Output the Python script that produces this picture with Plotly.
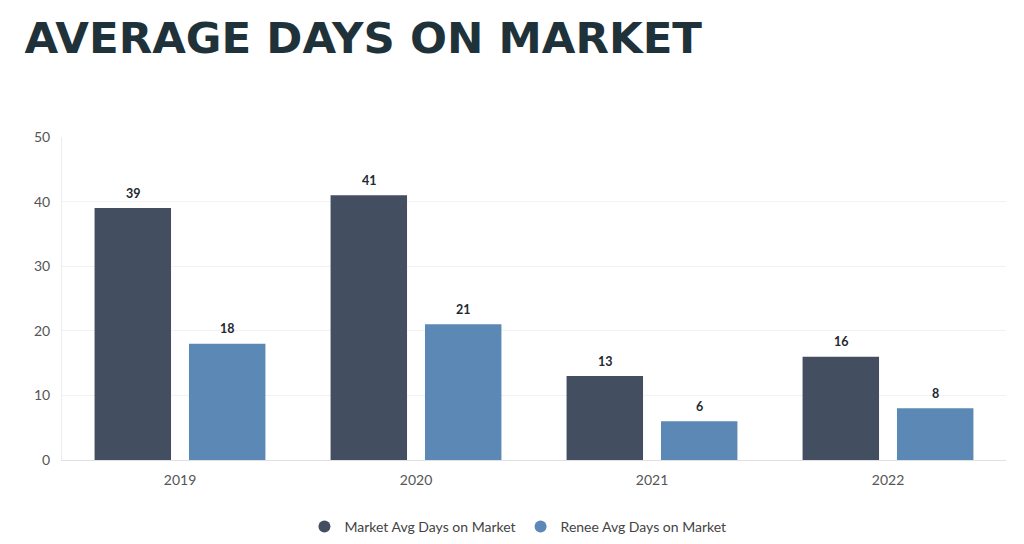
import plotly.graph_objects as go

years = ["2019", "2020", "2021", "2022"]
market_days = [39, 41, 13, 16]
renee_days = [18, 21, 6, 8]
series_names = ["Market Avg Days on Market", "Renee Avg Days on Market"]
colors = ["#434e60", "#5b88b5"]
title_text = "AVERAGE DAYS ON MARKET"

fig = go.Figure()
for name, vals, col in zip(series_names, [market_days, renee_days], colors):
    fig.add_trace(go.Bar(
        x=years, y=vals, name=name, marker=dict(color=col, line=dict(width=0)),
        showlegend=False, hoverinfo="skip",
    ))
# value labels above bars (x given as category index)
for vals, xs in zip([market_days, renee_days], [-47, 47]):
    for i, v in enumerate(vals):
        fig.add_annotation(x=i, y=v, text=f"<b>{v}</b>", showarrow=False,
                           xshift=xs, yshift=15, yanchor="middle",
                           font=dict(family="Lato", size=12.5, color="#222831"))
for name, col in zip(series_names, colors):
    fig.add_trace(go.Scatter(
        x=[None], y=[None], mode="markers", name=name,
        marker=dict(symbol="circle", size=17, color=col),
        showlegend=True,
    ))

fig.update_layout(
    width=1016, height=536,
    paper_bgcolor="white", plot_bgcolor="white",
    margin=dict(l=54, r=18, t=129, b=84, autoexpand=False),
    barmode="group", bargap=0.2, bargroupgap=0.19,
    font=dict(family="Lato", size=14, color="#555"),
    title=dict(text=title_text, x=0.0163, xanchor="left", y=0.944, yanchor="middle",
               font=dict(family="DejaVu Sans", size=43.5, color="#1f3239", weight="bold")),
    showlegend=True,
    legend=dict(orientation="h", x=0.483, xanchor="center", y=-0.207, yanchor="middle",
                font=dict(size=14, color="#444"), itemsizing="constant"),
    xaxis=dict(type="category", range=[-0.5, 3.5], showline=True, linecolor="#e0e0e0",
               linewidth=1, ticks="", showgrid=False, ticklabelstandoff=7,
               tickfont=dict(size=14, color="#555"), automargin=False),
    yaxis=dict(range=[0, 50], dtick=10, showgrid=True, gridcolor="#f2f2f2",
               showline=True, linecolor="#ececec", zeroline=False, ticks="",
               tickfont=dict(size=14, color="#555"), ticklabelstandoff=8, automargin=False),
)

fig.write_html("out.html")
